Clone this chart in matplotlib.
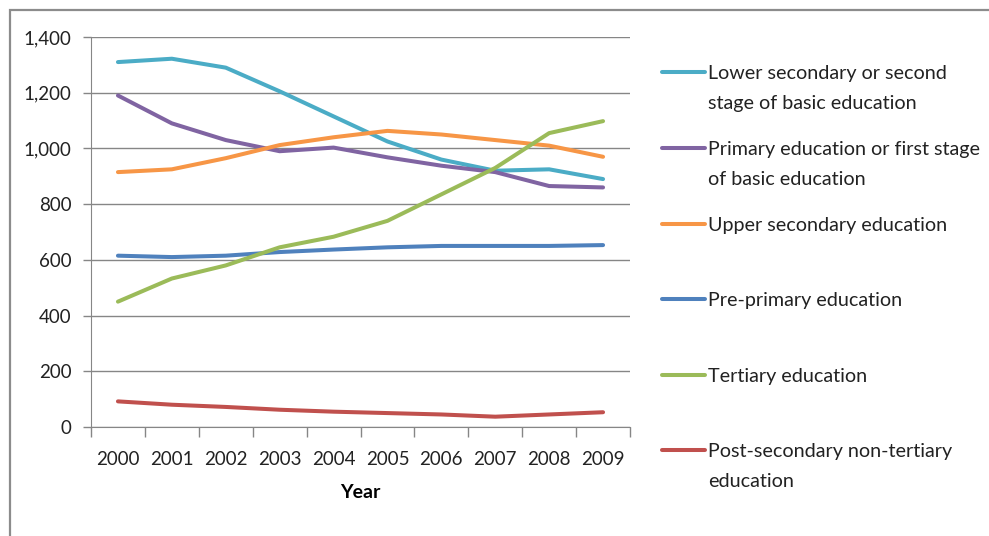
import matplotlib
matplotlib.use("Agg")
import matplotlib.pyplot as plt
from matplotlib.lines import Line2D
from matplotlib.patches import Rectangle
from matplotlib.ticker import FuncFormatter, FixedLocator

years = ["2000", "2001", "2002", "2003", "2004", "2005", "2006", "2007", "2008", "2009"]
lower_secondary = [1310, 1322, 1290, 1205, 1115, 1025, 960, 920, 925, 890]
primary = [1190, 1090, 1030, 990, 1003, 968, 938, 915, 865, 860]
upper_secondary = [915, 925, 965, 1012, 1040, 1063, 1050, 1030, 1010, 970]
pre_primary = [615, 610, 615, 628, 637, 645, 650, 650, 650, 653]
tertiary = [450, 533, 580, 645, 683, 740, 835, 930, 1055, 1098]
post_secondary = [92, 80, 72, 62, 55, 50, 45, 37, 45, 53]

series = [
    ("Lower secondary or second\nstage of basic education", lower_secondary, "#4BACC6"),
    ("Primary education or first stage\nof basic education", primary, "#8064A2"),
    ("Upper secondary education", upper_secondary, "#F79646"),
    ("Pre-primary education", pre_primary, "#4F81BD"),
    ("Tertiary education", tertiary, "#9BBB59"),
    ("Post-secondary non-tertiary\neducation", post_secondary, "#C0504D"),
]

plt.rcParams['font.family'] = ['Lato', 'DejaVu Sans']

W, H = 989, 536
fig = plt.figure(figsize=(W / 100, H / 100), dpi=100)
ax = fig.add_axes([91 / W, 1 - 427 / H, (630 - 91) / W, (427 - 37) / H])

x = list(range(len(years)))
for label, vals, col in series:
    ax.plot(x, vals, color=col, lw=2.9, solid_capstyle='round', solid_joinstyle='round')

ax.set_xlim(-0.5, len(years) - 0.5)
ax.set_ylim(0, 1400)
ax.set_yticks(range(0, 1401, 200))
ax.yaxis.set_major_formatter(FuncFormatter(lambda v, p: f"{int(v):,}"))
ax.set_xticks(x)
ax.set_xticklabels(years)
ax.xaxis.set_minor_locator(FixedLocator([i - 0.5 for i in range(len(years) + 1)]))
ax.tick_params(axis='x', which='major', length=0, labelsize=13.5, pad=17, colors='#222222')
ax.tick_params(axis='x', which='minor', length=7, width=1, color='#868686', direction='out')
ax.tick_params(axis='y', length=6, width=1, color='#868686', labelsize=13.5, pad=8, labelcolor='#222222')
ax.grid(axis='y', color='#868686', lw=1)
ax.set_axisbelow(True)
for s in ['top', 'right']:
    ax.spines[s].set_visible(False)
ax.spines['left'].set_color('#868686')
ax.spines['bottom'].set_color('#868686')
ax.set_xlabel("Year", fontsize=14, fontweight='bold', labelpad=12)

# legend drawn manually
ys = [72, 148, 224, 299, 375, 450]
for (label, vals, col), yy in zip(series, ys):
    fy = 1 - yy / H
    fig.add_artist(Line2D([662 / W, 705 / W], [fy, fy], color=col, lw=2.9,
                          solid_capstyle='round', transform=fig.transFigure))
    for k, line in enumerate(label.split("\n")):
        fig.text(708 / W, 1 - (yy + 30 * k) / H, line, fontsize=14.2,
                 va='center_baseline', ha='left', color='#222222',
                 transform=fig.transFigure)

fig.add_artist(Rectangle((10 / W, -0.1), 1.2, 1 - 10 / H + 0.1, fill=False,
                         edgecolor='#8c8c8c', lw=1.6, transform=fig.transFigure))

fig.savefig("out.png", dpi=100)
